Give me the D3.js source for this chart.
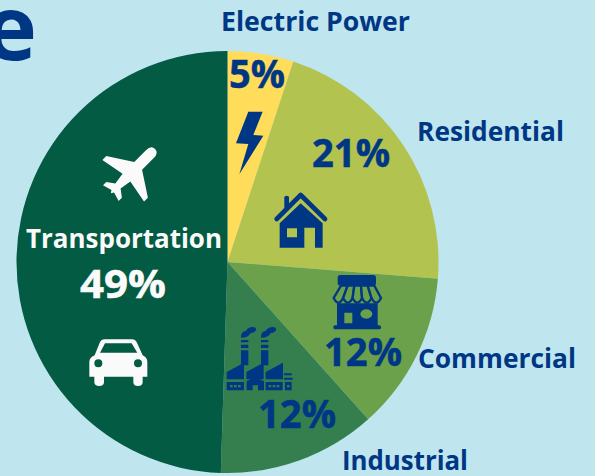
<!DOCTYPE html>
<html>
<head>
<meta charset="utf-8">
<style>
    html, body { margin: 0; padding: 0; background: #bfe5ee; overflow: hidden; }
    svg { display: block; }
    text { font-family: "Open Sans", sans-serif; font-weight: 700; }
</style>
</head>
<body>
<script src="https://d3js.org/d3.v7.min.js"></script>
<script>
    var sectors = ["Electric Power", "Residential", "Commercial", "Industrial", "Transportation"];
    var shares = [5, 21, 12, 12, 49];
    var sliceColors = ["#ffdc5a", "#b2c350", "#6ba14a", "#347f4d", "#025b42"];

    var width = 595,
        height = 476,
        navy = "#003785",
        white = "#fbfafa";

    var cx = 227.5, cy = 262, radius = 211;

    var svg = d3.select("body").append("svg")
        .attr("width", width)
        .attr("height", height);

    // piece of the cut off title
    svg.append("text")
        .attr("x", 37).attr("y", 60)
        .attr("text-anchor", "end")
        .style("font-size", "90px")
        .style("fill", navy)
        .text("e");

    var pie = d3.pie().sort(null).value(function(d) { return d; });
    var arc = d3.arc().innerRadius(0).outerRadius(radius);

    svg.append("g")
        .attr("transform", "translate(" + cx + "," + cy + ")")
        .selectAll("path")
        .data(pie(shares))
        .enter().append("path")
        .attr("d", arc)
        .style("fill", function(d, i) { return sliceColors[i]; });

    // label placement, same order as sectors: [x, y, width]
    var namePos = [[221, 31, 189], [417, 141, 147], [418, 368, 158], [342, 470, 126], [26, 248, 196]];
    var pctPos = [[229, 88, 56], [312, 167, 78], [324, 366, 78], [258, 428, 78], [80, 298, 86]];

    sectors.forEach(function(name, i) {
        var color = i == 4 ? white : navy;
        svg.append("text")
            .attr("x", namePos[i][0]).attr("y", namePos[i][1])
            .attr("textLength", namePos[i][2])
            .attr("lengthAdjust", "spacingAndGlyphs")
            .style("font-size", "26px")
            .style("fill", color)
            .text(name);
        svg.append("text")
            .attr("x", pctPos[i][0]).attr("y", pctPos[i][1])
            .attr("textLength", pctPos[i][2])
            .attr("lengthAdjust", "spacingAndGlyphs")
            .style("font-size", "40px")
            .style("fill", color)
            .style("stroke", color)
            .style("stroke-width", 0.5)
            .text(d3.format("d")(shares[i]) + "%");
    });

    // icons are traced in 3x pixels from their own corner
    function icon(x, y, color) {
        return svg.append("g")
            .attr("transform", "translate(" + x + "," + y + ") scale(0.3333)")
            .style("fill", color);
    }

    // bolt
    icon(0, 0, navy).append("path")
        .attr("d", "M745,335 L788,335 L760,405 L790,407 L718,523 L745,432 L708,430 Z");

    // plane, drawn nose up and then turned
    svg.append("path")
        .attr("transform", "translate(131,173) rotate(45) scale(0.92)")
        .style("fill", white)
        .attr("d", "M0,-37 Q6,-37 6,-29 L6,-11 L32,6 L32,12 L6,7 L4,20 L12,26 L12,31 L2,28 L0,31 "
            + "L-2,28 L-12,31 L-12,26 L-4,20 L-6,7 L-32,12 L-32,6 L-6,-11 L-6,-29 Q-6,-37 0,-37 Z");

    // car
    icon(60, 310, white).append("path")
        .attr("fill-rule", "evenodd")
        .attr("d", "M132,88 L218,88 Q226,88 230,96 L248,136 Q262,142 262,156 L262,200 L248,200 L248,216 "
            + "Q248,228 234,228 Q220,228 220,216 L220,200 L132,200 L132,216 Q132,228 118,228 Q103,228 103,216 "
            + "L103,200 L88,200 L88,156 Q88,142 104,136 L120,96 Q124,88 132,88 Z "
            + "M135,100 L215,100 L232,128 L120,128 Z "
            + "M103,160 a12,12 0 1,0 24,0 a12,12 0 1,0 -24,0 Z "
            + "M222,160 a12,12 0 1,0 24,0 a12,12 0 1,0 -24,0 Z");

    // house
    var house = icon(265, 185, navy);
    house.append("path")
        .style("fill", "none").style("stroke", navy).style("stroke-width", 14)
        .style("stroke-linecap", "round").style("stroke-linejoin", "round")
        .attr("d", "M35,102 L107,30 L180,102");
    house.append("path").attr("d", "M58,37 Q58,32 65,32 Q72,32 72,37 L72,65 L58,78 Z");
    house.append("path")
        .attr("fill-rule", "evenodd")
        .attr("d", "M44,115 L107,55 L173,115 L173,188 L150,188 L150,128 L118,128 L118,188 L44,188 Z "
            + "M66,130 L96,130 L96,157 L66,157 Z");

    // shop
    var shop = icon(325, 270, navy);
    shop.append("rect").attr("x", 38).attr("y", 15).attr("width", 115).attr("height", 32).attr("rx", 8);
    shop.append("path")
        .attr("fill-rule", "evenodd")
        .attr("d", "M36,100 L158,100 L158,170 L36,170 Z M58,128 L82,128 L82,160 L58,160 Z "
            + "M106,132 a18,14 0 1,0 36,0 a18,14 0 1,0 -36,0 Z");
    shop.append("rect").attr("x", 25).attr("y", 166).attr("width", 143).attr("height", 12).attr("rx", 5);
    d3.range(5).forEach(function(i) {
        var topLeft = 48 + i * 20, botLeft = 26 + i * 28.4;
        shop.append("path")
            .style("fill", "#6ba14a").style("stroke", navy).style("stroke-width", 7)
            .attr("d", "M" + topLeft + ",47 L" + (topLeft + 20) + ",47 L" + (botLeft + 28.4) + ",84 "
                + "Q" + (botLeft + 14.2) + ",112 " + botLeft + ",84 Z");
    });

    // factory
    var factory = icon(220, 322, navy);
    [0, 60].forEach(function(dx) {
        var chimney = factory.append("g").attr("transform", "translate(" + dx + ",0)");
        chimney.append("path").attr("d", "M63,85 L85,85 L85,130 L63,130 Z M63,68 L85,68 L85,78 L63,78 Z M63,54 L85,54 L85,61 L63,61 Z");
        chimney.append("path")
            .attr("d", "M63,47 Q62,28 78,26 Q84,15 98,15 Q110,15 108,24 Q104,33 92,33 Q86,47 63,47 Z");
    });
    [0, 59, 117].forEach(function(dx) {
        factory.append("path")
            .attr("d", "M" + (20 + dx) + ",150 L" + (72 + dx) + ",122 L" + (72 + dx) + ",172 L" + (20 + dx) + ",172 Z");
    });
    factory.append("path")
        .attr("fill-rule", "evenodd")
        .attr("d", "M20,180 L72,180 L72,205 L20,205 Z M30,189 L38,189 L38,196 L30,196 Z M42,189 L50,189 L50,196 L42,196 Z M54,189 L62,189 L62,196 L54,196 Z");
    factory.append("path")
        .attr("fill-rule", "evenodd")
        .attr("d", "M137,180 L188,180 L188,205 L137,205 Z M146,189 L154,189 L154,196 L146,196 Z M158,189 L166,189 L166,196 L158,196 Z M170,189 L178,189 L178,196 L170,196 Z");
    factory.append("path")
        .attr("d", "M105,165 L132,178 L132,205 L114,205 L114,190 L98,190 L98,205 L80,205 L80,178 Z");
    factory.append("path")
        .attr("fill-rule", "evenodd")
        .attr("d", "M195,180 L215,180 L215,205 L195,205 Z M201,189 L209,189 L209,196 L201,196 Z");
    factory.append("path").attr("d", "M192,154 L215,154 L215,160 L192,160 Z M192,167 L218,167 L218,173 L192,173 Z");
</script>
</body>
</html>
